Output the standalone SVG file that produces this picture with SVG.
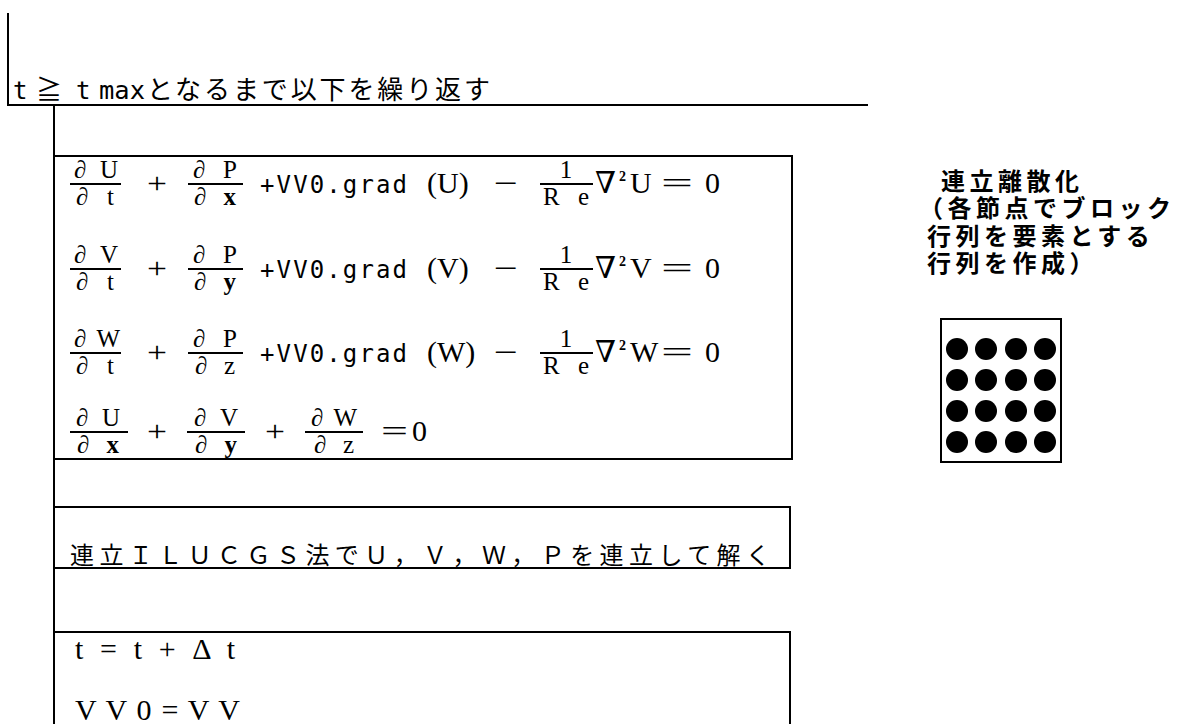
<svg xmlns="http://www.w3.org/2000/svg" width="1194" height="724" viewBox="0 0 1194 724">
<style>
.ln{stroke:#000;stroke-width:2;fill:none}
.fl{stroke:#000;stroke-width:1.8}
.box{stroke:#000;stroke-width:2;fill:#fff}
.sf{font-family:"Liberation Serif","DejaVu Serif",serif;font-size:30px;fill:#000}
.num{font-family:"Liberation Serif","DejaVu Serif",serif;font-size:25px;fill:#000;text-anchor:middle}
.mono{font-family:"DejaVu Sans Mono","Liberation Mono",monospace;font-size:24px;fill:#000}
.cjk{font-family:"Noto Sans CJK JP","Noto Sans CJK SC",sans-serif;fill:#000}
.sup{font-family:"Liberation Serif",serif;font-size:14px;font-weight:bold;fill:#000}
.dot{fill:#000}
</style>
<rect width="1194" height="724" fill="#fff"/>
<g id="connectors">
<line class="ln" x1="8" y1="13" x2="8" y2="105"/>
<line class="ln" x1="7" y1="105" x2="868" y2="105"/>
<line class="ln" x1="54" y1="105" x2="54" y2="724"/>
</g>
<g id="loop-title">
<text class="cjk" y="99" font-size="26"><tspan class="mono" x="13" font-size="24">t</tspan><tspan x="36">≧</tspan><tspan class="mono" x="76" font-size="24">t</tspan><tspan class="mono" x="99" font-size="22" textLength="46" lengthAdjust="spacingAndGlyphs">max</tspan><tspan x="147" textLength="343" lengthAdjust="spacing">となるまで以下を繰り返す</tspan></text>
</g>
<g id="equations">
<rect class="box" x="54" y="156" width="738" height="303"/>
<g id="eq-u" transform="translate(0,184)">
<text class="num" x="96" y="-6" textLength="44">∂ U</text>
<line class="fl" x1="70" y1="0" x2="121" y2="0"/>
<text class="num" x="95" y="21" textLength="38">∂ t</text>
<text class="sf" x="147" y="9" textLength="20" lengthAdjust="spacingAndGlyphs">+</text>
<text class="num" x="215" y="-6" textLength="44">∂ P</text>
<line class="fl" x1="188" y1="0" x2="243" y2="0"/>
<text class="num" x="215" y="21" textLength="42">∂ <tspan font-weight="bold">x</tspan></text>
<text class="mono" x="260" y="9" textLength="147" lengthAdjust="spacing">+VV0.grad</text>
<text class="sf" x="427" y="9">(U)</text>
<text class="sf" x="494" y="9" textLength="24" lengthAdjust="spacingAndGlyphs">−</text>
<text class="num" x="566" y="-6">1</text>
<line class="fl" x1="540" y1="0" x2="593" y2="0"/>
<text class="num" x="566" y="21" textLength="46">R e</text>
<text class="sf" x="595" y="9">∇</text>
<text class="sup" x="619" y="-3">2</text>
<text class="sf" x="630" y="9">U</text>
<text class="sf" x="661" y="9" textLength="32" lengthAdjust="spacingAndGlyphs">=</text>
<text class="sf" x="705" y="9">0</text>
</g>
<g id="eq-v" transform="translate(0,269)">
<text class="num" x="96" y="-6" textLength="44">∂ V</text>
<line class="fl" x1="70" y1="0" x2="121" y2="0"/>
<text class="num" x="95" y="21" textLength="38">∂ t</text>
<text class="sf" x="147" y="9" textLength="20" lengthAdjust="spacingAndGlyphs">+</text>
<text class="num" x="215" y="-6" textLength="44">∂ P</text>
<line class="fl" x1="188" y1="0" x2="243" y2="0"/>
<text class="num" x="215" y="21" textLength="42">∂ <tspan font-weight="bold">y</tspan></text>
<text class="mono" x="260" y="9" textLength="147" lengthAdjust="spacing">+VV0.grad</text>
<text class="sf" x="427" y="9">(V)</text>
<text class="sf" x="494" y="9" textLength="24" lengthAdjust="spacingAndGlyphs">−</text>
<text class="num" x="566" y="-6">1</text>
<line class="fl" x1="540" y1="0" x2="593" y2="0"/>
<text class="num" x="566" y="21" textLength="46">R e</text>
<text class="sf" x="595" y="9">∇</text>
<text class="sup" x="619" y="-3">2</text>
<text class="sf" x="630" y="9">V</text>
<text class="sf" x="661" y="9" textLength="32" lengthAdjust="spacingAndGlyphs">=</text>
<text class="sf" x="705" y="9">0</text>
</g>
<g id="eq-w" transform="translate(0,353)">
<text class="num" x="97" y="-6" textLength="46">∂ W</text>
<line class="fl" x1="70" y1="0" x2="121" y2="0"/>
<text class="num" x="95" y="21" textLength="38">∂ t</text>
<text class="sf" x="147" y="9" textLength="20" lengthAdjust="spacingAndGlyphs">+</text>
<text class="num" x="215" y="-6" textLength="44">∂ P</text>
<line class="fl" x1="188" y1="0" x2="243" y2="0"/>
<text class="num" x="215" y="21" textLength="40">∂ z</text>
<text class="mono" x="260" y="9" textLength="147" lengthAdjust="spacing">+VV0.grad</text>
<text class="sf" x="427" y="9">(W)</text>
<text class="sf" x="494" y="9" textLength="24" lengthAdjust="spacingAndGlyphs">−</text>
<text class="num" x="566" y="-6">1</text>
<line class="fl" x1="540" y1="0" x2="593" y2="0"/>
<text class="num" x="566" y="21" textLength="46">R e</text>
<text class="sf" x="595" y="9">∇</text>
<text class="sup" x="619" y="-3">2</text>
<text class="sf" x="630" y="9">W</text>
<text class="sf" x="661" y="9" textLength="32" lengthAdjust="spacingAndGlyphs">=</text>
<text class="sf" x="705" y="9">0</text>
</g>
<g id="eq-cont" transform="translate(0,432)">
<text class="num" x="98" y="-6" textLength="44">∂ U</text>
<line class="fl" x1="70" y1="0" x2="128" y2="0"/>
<text class="num" x="98" y="21" textLength="42">∂ <tspan font-weight="bold">x</tspan></text>
<text class="sf" x="147" y="9" textLength="20" lengthAdjust="spacingAndGlyphs">+</text>
<text class="num" x="216" y="-6" textLength="44">∂ V</text>
<line class="fl" x1="187" y1="0" x2="245" y2="0"/>
<text class="num" x="216" y="21" textLength="42">∂ <tspan font-weight="bold">y</tspan></text>
<text class="sf" x="265" y="9" textLength="20" lengthAdjust="spacingAndGlyphs">+</text>
<text class="num" x="334" y="-6" textLength="46">∂ W</text>
<line class="fl" x1="305" y1="0" x2="363" y2="0"/>
<text class="num" x="334" y="21" textLength="40">∂ z</text>
<text class="sf" x="381" y="9" textLength="27" lengthAdjust="spacingAndGlyphs">=</text>
<text class="sf" x="412" y="9">0</text>
</g>
</g>
<g id="solve">
<rect class="box" x="54" y="507" width="736" height="61"/>
<text class="cjk" x="70" y="564" font-size="24" textLength="700" lengthAdjust="spacing">連立ＩＬＵＣＧＳ法でＵ，Ｖ，Ｗ，Ｐを連立して解く</text>
</g>
<g id="update">
<path class="ln" d="M54,724 V632 H790 V724"/>
<text class="sf" x="75" y="659" font-size="28" textLength="160" lengthAdjust="spacing">t = t + Δ t</text>
<text class="sf" x="75" y="720" font-size="32" textLength="165" lengthAdjust="spacing">V V 0 = V V</text>
</g>
<g id="note">
<text class="cjk" font-size="24" font-weight="bold" letter-spacing="4.5"><tspan x="941" y="190">連立離散化</tspan><tspan x="919" y="217">（各節点でブロック</tspan><tspan x="927" y="245">行列を要素とする</tspan><tspan x="927" y="272">行列を作成）</tspan></text>
</g>
<g id="block-matrix">
<rect class="box" x="941" y="319" width="120" height="143"/>
<circle class="dot" cx="957" cy="349" r="11"/><circle class="dot" cx="986" cy="349" r="11"/><circle class="dot" cx="1016" cy="349" r="11"/><circle class="dot" cx="1045" cy="349" r="11"/>
<circle class="dot" cx="957" cy="380" r="11"/><circle class="dot" cx="986" cy="380" r="11"/><circle class="dot" cx="1016" cy="380" r="11"/><circle class="dot" cx="1045" cy="380" r="11"/>
<circle class="dot" cx="957" cy="411" r="11"/><circle class="dot" cx="986" cy="411" r="11"/><circle class="dot" cx="1016" cy="411" r="11"/><circle class="dot" cx="1045" cy="411" r="11"/>
<circle class="dot" cx="957" cy="442" r="11"/><circle class="dot" cx="986" cy="442" r="11"/><circle class="dot" cx="1016" cy="442" r="11"/><circle class="dot" cx="1045" cy="442" r="11"/>
</g>
</svg>
